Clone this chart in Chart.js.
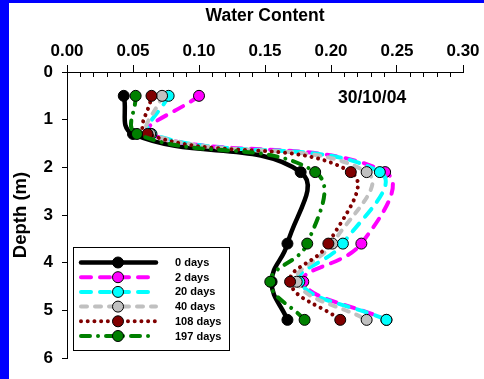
<!DOCTYPE html>
<html><head><meta charset="utf-8">
<script src="https://cdn.jsdelivr.net/npm/chart.js@4/dist/chart.umd.min.js"></script>
<style>
html,body{margin:0;padding:0;background:#fff;}
#frame{position:absolute;left:0;top:0;width:475px;height:376px;border-left:9px solid #0000ff;border-top:3px solid #0000ff;background:#fff;}
canvas{display:block;}
</style></head><body>
<div id="frame"><canvas id="c" width="475" height="376"></canvas></div>
<script>
const depths = [0.5, 1.3, 2.1, 3.6, 4.4, 5.2];
const labels = ['0 days', '2 days', '20 days', '40 days', '108 days', '197 days'];
const wc0   = [0.043, 0.050, 0.177, 0.167, 0.155, 0.167];
const wc2   = [0.100, 0.063, 0.241, 0.223, 0.179, 0.242];
const wc20  = [0.077, 0.064, 0.237, 0.209, 0.176, 0.242];
const wc40  = [0.072, 0.063, 0.227, 0.201, 0.174, 0.227];
const wc108 = [0.064, 0.061, 0.215, 0.198, 0.169, 0.207];
const wc197 = [0.052, 0.053, 0.188, 0.182, 0.154, 0.180];
const dateLabel = '30/10/04';

const FONT = '"Liberation Sans", Arial, sans-serif';
const series = [wc0, wc2, wc20, wc40, wc108, wc197];
const colors = ['#000000', '#ff00ff', '#00ffff', '#c0c0c0', '#800000', '#008000'];
const dashes = [[], [10, 9], [10, 9], [6, 8], [0.01, 6.7], [9, 8, 0.01, 8]];

const datasets = series.map((vals, i) => ({
  label: labels[i],
  data: vals.map((v, j) => ({ x: v, y: depths[j] })),
  showLine: true,
  tension: 0.42,
  borderColor: colors[i],
  borderWidth: i === 0 ? 4.5 : 4,
  borderDash: dashes[i],
  borderCapStyle: 'round',
  borderJoinStyle: 'round',
  pointRadius: 5.5,
  pointHoverRadius: 5.5,
  pointBackgroundColor: colors[i],
  pointBorderColor: '#000',
  pointBorderWidth: 1,
  order: series.length - i
}));

// minor ticks on the water content axis, date label and legend box
const extras = {
  id: 'extras',
  afterDraw(chart) {
    const ctx = chart.ctx, xs = chart.scales.x, top = chart.chartArea.top;
    ctx.save();
    ctx.strokeStyle = '#000';
    ctx.lineWidth = 1;
    ctx.beginPath();
    for (let k = 1; k < 30; k++) {
      if (k % 5 === 0) continue;
      const px = Math.round(xs.getPixelForValue(k / 100)) + 0.5;
      ctx.moveTo(px, top);
      ctx.lineTo(px, top + 5);
    }
    ctx.stroke();

    ctx.fillStyle = '#000';
    ctx.font = 'bold 17.5px ' + FONT;
    ctx.textAlign = 'left';
    ctx.textBaseline = 'middle';
    ctx.fillText(dateLabel, 329, 95);

    // legend
    const bx = 64.5, by = 244.5, bw = 156, bh = 103;
    ctx.fillStyle = '#fff';
    ctx.fillRect(bx, by, bw, bh);
    ctx.strokeStyle = '#000';
    ctx.lineWidth = 1;
    ctx.strokeRect(bx, by, bw, bh);
    ctx.font = 'bold 11px ' + FONT;
    chart.data.datasets.forEach((ds, i) => {
      const y = 259.5 + i * 14.7;
      ctx.save();
      ctx.strokeStyle = ds.borderColor;
      ctx.lineWidth = ds.borderWidth;
      ctx.lineCap = 'round';
      ctx.setLineDash(ds.borderDash);
      ctx.beginPath();
      ctx.moveTo(72, y);
      ctx.lineTo(147, y);
      ctx.stroke();
      ctx.restore();
      ctx.beginPath();
      ctx.arc(109, y, 5.5, 0, Math.PI * 2);
      ctx.fillStyle = ds.pointBackgroundColor;
      ctx.fill();
      ctx.lineWidth = 1;
      ctx.strokeStyle = '#000';
      ctx.stroke();
      ctx.fillStyle = '#000';
      ctx.fillText(ds.label, 166, y + 0.5);
    });
    ctx.restore();
  }
};

new Chart(document.getElementById('c').getContext('2d'), {
  type: 'scatter',
  data: { datasets },
  plugins: [extras],
  options: {
    responsive: false,
    animation: false,
    events: [],
    layout: { padding: { top: 0, left: 0, right: 21, bottom: 21 } },
    plugins: { legend: { display: false }, tooltip: { enabled: false } },
    scales: {
      x: {
        type: 'linear',
        position: 'top',
        min: 0, max: 0.3,
        afterFit(s) { s.height = 69; },
        ticks: {
          stepSize: 0.05,
          padding: 3,
          color: '#000',
          font: { family: FONT, size: 17, weight: 'bold' },
          callback: v => v.toFixed(2)
        },
        grid: { drawOnChartArea: false, drawTicks: true, tickLength: 7, color: '#000', lineWidth: 1 },
        border: { display: true, color: '#000', width: 1 },
        title: {
          display: true, text: 'Water Content', color: '#000',
          font: { family: FONT, size: 17.5, weight: 'bold' },
          padding: { top: 3, bottom: 0 }
        }
      },
      y: {
        type: 'linear',
        reverse: true,
        min: 0, max: 6,
        afterFit(s) { s.width = 58; },
        ticks: {
          stepSize: 1,
          padding: 9,
          color: '#000',
          font: { family: FONT, size: 17, weight: 'bold' }
        },
        grid: { drawOnChartArea: false, drawTicks: true, tickLength: 5, color: '#000', lineWidth: 1 },
        border: { display: true, color: '#000', width: 1 },
        title: {
          display: true, text: 'Depth (m)', color: '#000',
          font: { family: FONT, size: 18.5, weight: 'bold' },
          padding: { top: 1, bottom: 0 }
        }
      }
    }
  }
});
</script>
</body></html>
